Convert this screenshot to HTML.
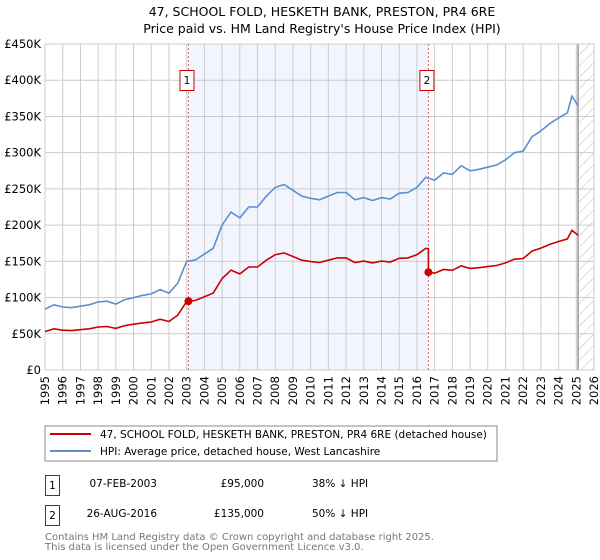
<!DOCTYPE html>
<html><head><meta charset="utf-8"><style>
body{margin:0;background:#fff;font-family:"DejaVu Sans","Liberation Sans",sans-serif;}
svg{display:block}
text{font-family:"DejaVu Sans","Liberation Sans",sans-serif;}
</style></head><body>
<svg id="chart" width="600" height="560" viewBox="0 0 600 560">
<defs><pattern id="hatch" width="8" height="8" patternUnits="userSpaceOnUse" patternTransform="rotate(45)"><line x1="0" y1="0" x2="0" y2="8" stroke="#bbb" stroke-width="1"/></pattern></defs>
<text x="322" y="16" text-anchor="middle" font-size="12.5">47, SCHOOL FOLD, HESKETH BANK, PRESTON, PR4 6RE</text>
<text x="322" y="33" text-anchor="middle" font-size="12.5">Price paid vs. HM Land Registry's House Price Index (HPI)</text>
<g id="plot"></g>
<rect x="45" y="426" width="452" height="35" fill="#fff" stroke="#888"/>
<line x1="50" y1="434" x2="91" y2="434" stroke="#cc0000" stroke-width="2"/>
<text x="100" y="438" font-size="10.5">47, SCHOOL FOLD, HESKETH BANK, PRESTON, PR4 6RE (detached house)</text>
<line x1="50" y1="451" x2="91" y2="451" stroke="#5b8fd0" stroke-width="2"/>
<text x="100" y="455" font-size="10.5">HPI: Average price, detached house, West Lancashire</text>
<rect x="45.5" y="475.5" width="14" height="20" fill="none" stroke="#cc0000"/>
<text x="52.5" y="489" text-anchor="middle" font-size="10.5">1</text>
<text x="157" y="487" text-anchor="end" font-size="10.5">07-FEB-2003</text>
<text x="264" y="487" text-anchor="end" font-size="10.5">£95,000</text>
<text x="312" y="487" font-size="10.5">38% ↓ HPI</text>
<rect x="45.5" y="505.5" width="14" height="20" fill="none" stroke="#cc0000"/>
<text x="52.5" y="519" text-anchor="middle" font-size="10.5">2</text>
<text x="157" y="517" text-anchor="end" font-size="10.5">26-AUG-2016</text>
<text x="264" y="517" text-anchor="end" font-size="10.5">£135,000</text>
<text x="312" y="517" font-size="10.5">50% ↓ HPI</text>
<text x="45" y="540" font-size="10" fill="#777">Contains HM Land Registry data © Crown copyright and database right 2025.</text>
<text x="45" y="550" font-size="10" fill="#777">This data is licensed under the Open Government Licence v3.0.</text>
</svg>
<script>
const hpiYears=[1995,1995.5,1996,1996.5,1997,1997.5,1998,1998.5,1999,1999.5,2000,2000.5,2001,2001.5,2002,2002.5,2003,2003.5,2004,2004.5,2005,2005.5,2006,2006.5,2007,2007.5,2008,2008.5,2009,2009.5,2010,2010.5,2011,2011.5,2012,2012.5,2013,2013.5,2014,2014.5,2015,2015.5,2016,2016.5,2017,2017.5,2018,2018.5,2019,2019.5,2020,2020.5,2021,2021.5,2022,2022.5,2023,2023.5,2024,2024.5,2024.75,2025.1];
const hpiValues=[84,90,87,86,88,90,94,95,91,97,100,103,105,111,106,120,150,152,160,168,200,218,210,225,225,240,252,256,248,240,237,235,240,245,245,235,238,234,238,236,244,245,252,266,262,272,270,282,275,277,280,283,290,300,302,322,330,340,348,355,378,365];
const saleYears=[2003.1,2016.65];
const salePrices=[95,135];
const yTicks=[0,50,100,150,200,250,300,350,400,450];
const yTickLabels=["£0","£50K","£100K","£150K","£200K","£250K","£300K","£350K","£400K","£450K"];
const xTicks=[1995,1996,1997,1998,1999,2000,2001,2002,2003,2004,2005,2006,2007,2008,2009,2010,2011,2012,2013,2014,2015,2016,2017,2018,2019,2020,2021,2022,2023,2024,2025,2026];

const NS="http://www.w3.org/2000/svg";
const L=45,R=594,T=44,B=370,X0=1995,X1=2026,YMAX=450;
const xs=v=>L+(v-X0)/(X1-X0)*(R-L);
const ys=v=>B-v/YMAX*(B-T);
const g=document.getElementById('plot');
function mk(tag,attrs,parent){const e=document.createElementNS(NS,tag);for(const k in attrs)e.setAttribute(k,attrs[k]);(parent||g).appendChild(e);return e;}
function hpiAt(t){for(let i=0;i<hpiYears.length-1;i++){if(t>=hpiYears[i]&&t<=hpiYears[i+1]){const f=(t-hpiYears[i])/(hpiYears[i+1]-hpiYears[i]);return hpiValues[i]+f*(hpiValues[i+1]-hpiValues[i]);}}return hpiValues[hpiValues.length-1];}

let shade=mk('rect',{x:xs(saleYears[0]),y:T,width:xs(saleYears[1])-xs(saleYears[0]),height:B-T,fill:'#f2f5fd'});


let hat=mk('rect',{x:xs(2025.1),y:T,width:R-xs(2025.1),height:B-T,fill:'url(#hatch)'});


yTicks.forEach((v,i)=>{
  let l=mk('line',{x1:L,x2:R,y1:ys(v),y2:ys(v),stroke:'#ccc','stroke-width':1});
  
  
  let t=mk('text',{x:L-4,y:ys(v)+4,'text-anchor':'end','font-size':'11.5'});
  t.textContent=yTickLabels[i];
  
  
});
xTicks.forEach(v=>{
  let l=mk('line',{x1:xs(v),x2:xs(v),y1:T,y2:B,stroke:'#ccc','stroke-width':1});
  
  
  let t=mk('text',{x:0,y:0,'text-anchor':'end','font-size':'11.5',transform:`translate(${xs(v)+4},${B+6}) rotate(-90)`});
  t.textContent=v;
  
  
});
let fl=mk('line',{x1:xs(2025.1),x2:xs(2025.1),y1:T,y2:B,stroke:'#999','stroke-width':1.5});


let fr=mk('rect',{x:L,y:T,width:R-L,height:B-T,fill:'none',stroke:'#ccc'});


saleYears.forEach((s,i)=>{
  let l=mk('line',{x1:xs(s),x2:xs(s),y1:T,y2:B,stroke:'#e06060','stroke-width':1,'stroke-dasharray':'2,2'});
  
  
  let r=mk('rect',{x:xs(s)-8.5,y:70.5,width:14,height:20,fill:'#fff',stroke:'#cc0000'});
  
  
  let t=mk('text',{x:xs(s)-1.5,y:84,'text-anchor':'middle','font-size':'10.5'});
  t.textContent=String(i+1);
  
  
});
let hp=hpiYears.map((t,i)=>`${xs(t).toFixed(1)},${ys(hpiValues[i]).toFixed(1)}`).join(' ');
let hl=mk('polyline',{points:hp,fill:'none',stroke:'#5b8fd0','stroke-width':1.6});


let pts=[];
hpiYears.forEach((t,i)=>{
  let k=(t<saleYears[1])?0:1;
  if(i>0&&hpiYears[i-1]<saleYears[1]&&t>=saleYears[1]){
    pts.push([saleYears[1],salePrices[0]*hpiAt(saleYears[1])/hpiAt(saleYears[0])]);
    pts.push([saleYears[1],salePrices[1]]);
  }
  pts.push([t,salePrices[k]*hpiValues[i]/hpiAt(saleYears[k])]);
});
let pl=mk('polyline',{points:pts.map(p=>`${xs(p[0]).toFixed(1)},${ys(p[1]).toFixed(1)}`).join(' '),fill:'none',stroke:'#cc0000','stroke-width':1.6});


saleYears.forEach((s,i)=>{
  let c=mk('circle',{cx:xs(s),cy:ys(salePrices[i]),r:4,fill:'#cc0000'});
  
  
});
</script>
</body></html>
